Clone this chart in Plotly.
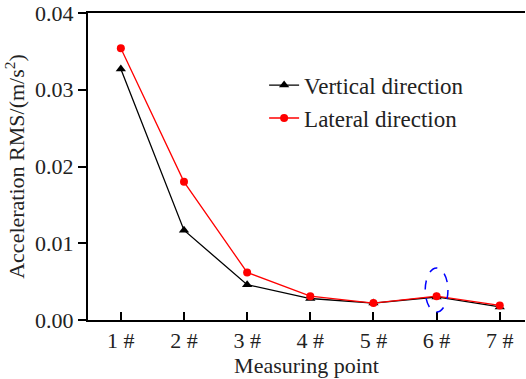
import plotly.graph_objects as go

points = ["1 #", "2 #", "3 #", "4 #", "5 #", "6 #", "7 #"]
vertical = [0.0327, 0.0117, 0.0046, 0.0028, 0.0022, 0.0030, 0.0017]
lateral = [0.0354, 0.0180, 0.0062, 0.0031, 0.0022, 0.0031, 0.0019]
y_ticks = [0.00, 0.01, 0.02, 0.03, 0.04]

FONT = "Liberation Serif"

fig = go.Figure()
fig.add_trace(go.Scatter(
    x=points, y=vertical, name="Vertical direction", mode="lines+markers",
    line=dict(color="black", width=1.3),
    marker=dict(symbol="triangle-up", size=9, color="black"),
))
fig.add_trace(go.Scatter(
    x=points, y=lateral, name="Lateral direction", mode="lines+markers",
    line=dict(color="red", width=1.3),
    marker=dict(symbol="circle", size=8, color="red"),
))

# dashed ellipse around point 6 #
fig.add_shape(type="circle", xref="x", yref="y",
              x0=4.82, x1=5.18, y0=0.00104, y1=0.00678,
              line=dict(color="blue", width=1.5, dash="dash"))

fig.update_layout(
    width=526, height=379,
    margin=dict(l=88, r=1, t=13, b=59, autoexpand=False),
    paper_bgcolor="white", plot_bgcolor="white",
    font=dict(family=FONT, size=22, color="#222"),
    showlegend=True,
    legend=dict(x=0.403, y=0.835, xanchor="left", yanchor="top",
                bgcolor="rgba(0,0,0,0)", font=dict(family=FONT, size=23, color="#222"),
                tracegroupgap=0),
    xaxis=dict(
        type="category", range=[-0.52, 6.4], automargin=False,
        showline=True, linecolor="black", linewidth=2, mirror=True,
        ticks="inside", ticklen=8, tickwidth=2, tickcolor="black",
        showgrid=False, zeroline=False,
        tickfont=dict(family=FONT, size=22, color="#222"), ticklabelstandoff=0,
        title=dict(text="Measuring point", font=dict(family=FONT, size=22, color="#222"), standoff=2),
    ),
    yaxis=dict(
        range=[0, 0.04], tickvals=y_ticks, tickformat=".2f", automargin=False,
        showline=True, linecolor="black", linewidth=2, mirror=False,
        ticks="outside", ticklen=8, tickwidth=2, tickcolor="black",
        showgrid=False, zeroline=False,
        tickfont=dict(family=FONT, size=22, color="#222"),
        title=dict(text="Acceleration RMS/(m/s<sup>2</sup>)", font=dict(family=FONT, size=22, color="#222"), standoff=4),
    ),
)

fig.write_html("out.html", config={"displayModeBar": False},
               post_script="document.body.style.margin='0';")
